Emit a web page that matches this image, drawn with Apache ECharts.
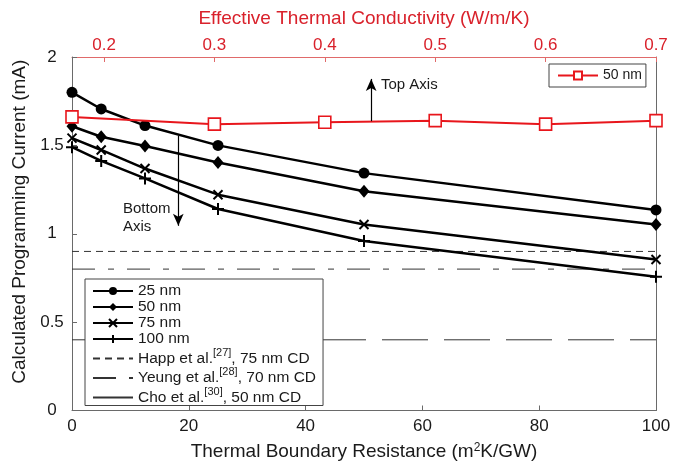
<!DOCTYPE html>
<html>
<head>
<meta charset="utf-8">
<script src="https://cdn.jsdelivr.net/npm/echarts@6/dist/echarts.min.js"></script>
<style>
  html, body { margin: 0; background: #fff; }
  #chart { width: 684px; height: 466px; }
</style>
</head>
<body>
<div id="chart"></div>
<script>
// bottom axis: thermal boundary resistance (m2K/GW)
const tbrValues = [0, 5, 12.5, 25, 50, 100]
const current25 = [1.80, 1.706, 1.612, 1.50, 1.343, 1.135]
const current50 = [1.608, 1.549, 1.496, 1.403, 1.24, 1.052]
const current75 = [1.541, 1.474, 1.369, 1.221, 1.052, 0.854]
const current100 = [1.49, 1.412, 1.313, 1.14, 0.959, 0.757]
// top axis: effective thermal conductivity (W/m/K)
const kValues = [0.171, 0.3, 0.4, 0.5, 0.6, 0.7]
const currentK50 = [1.661, 1.62, 1.631, 1.64, 1.62, 1.64]
const topTicks = [0.2, 0.3, 0.4, 0.5, 0.6, 0.7]
// reported values from literature
const refNames = ['Happ', 'Yeung', 'Cho']
const refCurrents = [0.9, 0.8, 0.4]
const refLabels = {
  Happ: '{b|Happ et al.}{s|[27]}{b|, 75 nm CD}',
  Yeung: '{b|Yeung et al.}{s|[28]}{b|, 70 nm CD}',
  Cho: '{b|Cho et al.}{s|[30]}{b|, 50 nm CD}'
}

const font = '"Liberation Sans", Arial, sans-serif'
const red = '#e8161c'
const redText = '#d9212b'
const frame = '#6a6a6a'

const crossPath = 'path://M0,0L10,10M10,0L0,10'
const plusPath = 'path://M5,0L5,10M0,5L10,5'

function blackSeries(name, ys, symbol, size, stroked) {
  return {
    name: name,
    type: 'line',
    xAxisIndex: 0,
    yAxisIndex: 0,
    data: tbrValues.map((x, i) => [x, ys[i]]),
    symbol: symbol,
    symbolSize: size,
    showAllSymbol: true,
    lineStyle: { color: '#000', width: 2.5 },
    itemStyle: stroked
      ? { color: '#000', borderColor: '#000', borderWidth: 2 }
      : { color: '#000', borderWidth: 0 },
    z: 3
  }
}

const dashTypes = [[7, 5], [23, 13, 6, 13], [46, 16]]
const refSeries = refNames.map((name, i) => ({
  name: name,
  type: 'line',
  xAxisIndex: 0,
  yAxisIndex: 0,
  data: [[0, refCurrents[i]], [100, refCurrents[i]]],
  symbol: 'none',
  lineStyle: { color: '#333', width: 1, type: dashTypes[i] },
  itemStyle: { color: '#333' },
  z: 2
}))

const s25 = blackSeries('25 nm', current25, 'circle', 11, false)
s25.markLine = {
  silent: true,
  symbol: ['none', 'arrow'],
  symbolSize: [8, 12],
  label: { show: false },
  lineStyle: { color: '#000', width: 1.2, type: 'solid' },
  data: [[{ coord: [18.2, 1.555] }, { coord: [18.2, 1.045] }]]
}

const chart = echarts.init(document.getElementById('chart'))
chart.setOption({
  animation: false,
  backgroundColor: '#fff',
  textStyle: { fontFamily: font },
  grid: { left: 72, right: 28, top: 57, bottom: 53 },
  xAxis: [{
    type: 'value',
    position: 'bottom',
    min: 0,
    max: 100,
    interval: 20,
    name: '{a|Thermal Boundary Resistance (m}{s|2}{a|K/GW)}',
    nameLocation: 'middle',
    nameGap: 31,
    nameTextStyle: {
      rich: {
        a: { fontSize: 19, color: '#1a1a1a', fontFamily: font, lineHeight: 20 },
        s: { fontSize: 12, color: '#1a1a1a', fontFamily: font, lineHeight: 10, verticalAlign: 'top' }
      }
    },
    axisLine: { onZero: false, lineStyle: { color: frame, width: 1 } },
    axisTick: { inside: true, length: 5, lineStyle: { color: frame } },
    axisLabel: { fontSize: 17, color: '#1a1a1a', margin: 7, fontFamily: font },
    splitLine: { show: false }
  }, {
    type: 'value',
    position: 'top',
    min: 0.171,
    max: 0.7,
    name: 'Effective Thermal Conductivity (W/m/K)',
    nameLocation: 'middle',
    nameGap: 29,
    nameTextStyle: { fontSize: 19, color: redText, fontFamily: font },
    axisLine: { onZero: false, lineStyle: { color: '#e06a6a', width: 1 } },
    axisTick: { inside: true, length: 5, customValues: topTicks, lineStyle: { color: '#e06a6a' } },
    axisLabel: {
      fontSize: 17, color: redText, margin: 3, fontFamily: font,
      customValues: topTicks,
      formatter: v => String(Math.round(v * 10) / 10)
    },
    splitLine: { show: false }
  }],
  yAxis: [{
    type: 'value',
    position: 'left',
    min: 0,
    max: 2,
    interval: 0.5,
    name: 'Calculated Programming Current (mA)',
    nameLocation: 'middle',
    nameGap: 38,
    nameRotate: 90,
    nameTextStyle: { fontSize: 19, color: '#1a1a1a', fontFamily: font, padding: [0, 0, 0, 24] },
    axisLine: { show: true, onZero: false, lineStyle: { color: frame, width: 1 } },
    axisTick: { show: true, inside: true, length: 5, lineStyle: { color: frame } },
    axisLabel: { fontSize: 17, color: '#1a1a1a', margin: 20, align: 'center', fontFamily: font },
    splitLine: { show: false }
  }, {
    type: 'value',
    position: 'right',
    min: 0,
    max: 2,
    interval: 0.5,
    axisLine: { show: true, onZero: false, lineStyle: { color: frame, width: 1 } },
    axisTick: { show: false },
    axisLabel: { show: false },
    splitLine: { show: false }
  }],
  legend: [{
    orient: 'vertical',
    left: 85,
    top: 279,
    padding: [4, 7, 0, 7],
    itemGap: 0,
    itemWidth: 40,
    itemHeight: 10,
    borderColor: '#444',
    borderWidth: 1,
    backgroundColor: '#fff',
    data: ['25 nm', '50 nm', '75 nm', '100 nm'].concat(refNames.map(n => ({ name: n, itemStyle: { opacity: 0 } }))),
    formatter: name => refLabels[name] || '{a|' + name + '}',
    textStyle: {
      fontFamily: font,
      rich: {
        a: { fontSize: 15.5, color: '#1a1a1a', fontFamily: font, lineHeight: 16 },
        b: { fontSize: 15.5, color: '#1a1a1a', fontFamily: font, lineHeight: 23 },
        s: { fontSize: 11, color: '#1a1a1a', fontFamily: font, lineHeight: 9, verticalAlign: 'top' }
      }
    }
  }, {
    left: 549,
    top: 64,
    padding: [3, 4, 3, 8],
    itemWidth: 40,
    itemHeight: 10,
    borderColor: '#444',
    borderWidth: 1,
    backgroundColor: '#fff',
    data: ['50 nm (k)'],
    formatter: () => '50 nm',
    textStyle: { fontSize: 14, color: '#1a1a1a', fontFamily: font, lineHeight: 17 }
  }],
  graphic: [
    { type: 'text', left: 381, top: 77, style: { text: 'Top Axis', font: '15px ' + font, fill: '#1a1a1a' } },
    { type: 'text', left: 123, top: 200, style: { text: 'Bottom\nAxis', font: '15px ' + font, fill: '#1a1a1a', lineHeight: 18 } }
  ],
  series: [
    s25,
    blackSeries('50 nm', current50, 'diamond', [11, 13], false),
    blackSeries('75 nm', current75, crossPath, 9, true),
    blackSeries('100 nm', current100, plusPath, 12, true),
    ...refSeries,
    {
      name: '50 nm (k)',
      type: 'line',
      xAxisIndex: 1,
      yAxisIndex: 0,
      data: kValues.map((x, i) => [x, currentK50[i]]),
      symbol: 'rect',
      symbolSize: 12,
      showAllSymbol: true,
      lineStyle: { color: red, width: 2 },
      itemStyle: { color: '#fff', borderColor: red, borderWidth: 1.6 },
      z: 4,
      markLine: {
        silent: true,
        symbol: ['none', 'arrow'],
        symbolSize: [8, 12],
        label: { show: false },
        lineStyle: { color: '#000', width: 1.2, type: 'solid' },
        data: [[{ coord: [0.442, 1.637] }, { coord: [0.442, 1.876] }]]
      }
    }
  ]
})
</script>
</body>
</html>
